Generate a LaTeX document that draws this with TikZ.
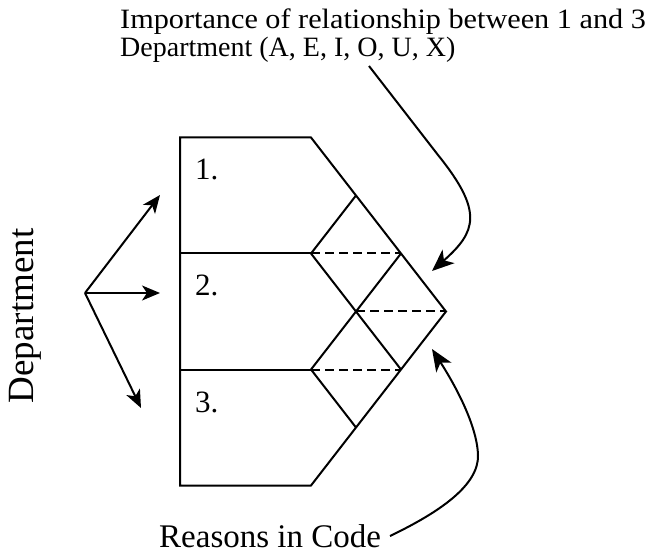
\documentclass[tikz,border=0pt]{standalone}
\usepackage{fontspec}
\setmainfont{Liberation Serif}
\usetikzlibrary{arrows.meta,positioning,calc}
\tikzset{
  txt/.style={font=\fontsize{31}{37}\selectfont,inner sep=0pt,anchor=base west},
  headtxt/.style={txt,font=\fontsize{28}{32}\selectfont},
  deptline/.style={draw=black,line width=2pt,line join=miter},
  relline/.style={draw=black,line width=2pt,dash pattern=on 9pt off 5pt},
  flow/.style={-{Stealth[length=18pt,width=15pt,inset=5pt]},line width=2pt,draw=black},
  codeflow/.style={flow,-{Stealth[length=22pt,width=18pt,inset=6pt]}}
}

\begin{document}
\begin{tikzpicture}[x=1pt,y=-1pt]
  \useasboundingbox (0,0) rectangle (656,553);
  % texts
  \node[headtxt,xscale=1.08] (title) at (120,29) {Importance of relationship between 1 and 3};
  \node[headtxt] (deptcode) at (120,57) {Department (A, E, I, O, U, X)};
  \node[txt,anchor=base,rotate=90,font=\fontsize{37}{40}\selectfont] (dept) at (34,316) {Department};
  \node[txt,font=\fontsize{33}{37}\selectfont] (reasons) at (159,547) {Reasons in Code};
  \node[txt] (d1) at (195,180) {1.};
  \node[txt] (d2) at (195,296) {2.};
  \node[txt] (d3) at (195,412) {3.};
  % outline of departments
  \coordinate (nw) at (180,137.5);
  \coordinate (ne) at (311,137.5);
  \coordinate (tip) at (446,311.5);
  \coordinate (se) at (311,485.5);
  \coordinate (sw) at (180,485.5);
  \coordinate (l12) at (180,253.5);
  \coordinate (l23) at (180,369.5);
  \coordinate (a12) at (311,253.5);
  \coordinate (b12) at (401,253.5);
  \coordinate (a23) at (311,369.5);
  \coordinate (b23) at (401,369.5);
  \coordinate (c1) at (356,195.5);
  \coordinate (c2) at (356,311.5);
  \coordinate (c3) at (356,427.5);
  \draw[deptline] (nw) -- (ne) -- (tip) -- (se) -- (sw) -- cycle;
  \draw[deptline] (l12) -- (a12);
  \draw[deptline] (l23) -- (a23);
  \draw[deptline] (c1) -- (a12) -- (b23);
  \draw[deptline] (b12) -- (a23) -- (c3);
  \draw[relline] (a12) -- (b12);
  \draw[relline] (c2) -- (tip);
  \draw[relline] (a23) -- (b23);
  % department arrows
  \coordinate (fork) at (85,293);
  \coordinate (to1) at (160,195);
  \coordinate (to2) at (160,293);
  \coordinate (to3) at (141,408);
  \draw[flow] (fork) -- (to1);
  \draw[flow] (fork) -- (to2);
  \draw[flow] (fork) -- (to3);
  % pointers to the relation cells
  \coordinate (fromcode) at (369,66);
  \coordinate (bendcode) at (438,155);
  \coordinate (tocode) at (432,271);
  \draw[codeflow] (fromcode) -- (bendcode) .. controls (484,212) and (476,232) .. (tocode);
  \coordinate (fromreason) at (390,536);
  \coordinate (bendreason) at (478,455);
  \coordinate (toreason) at (432,349);
  \draw[codeflow] (fromreason) .. controls (440,512) and (479,485) .. (bendreason)
    .. controls (477,425) and (455,385) .. (toreason);
\end{tikzpicture}
\end{document}
